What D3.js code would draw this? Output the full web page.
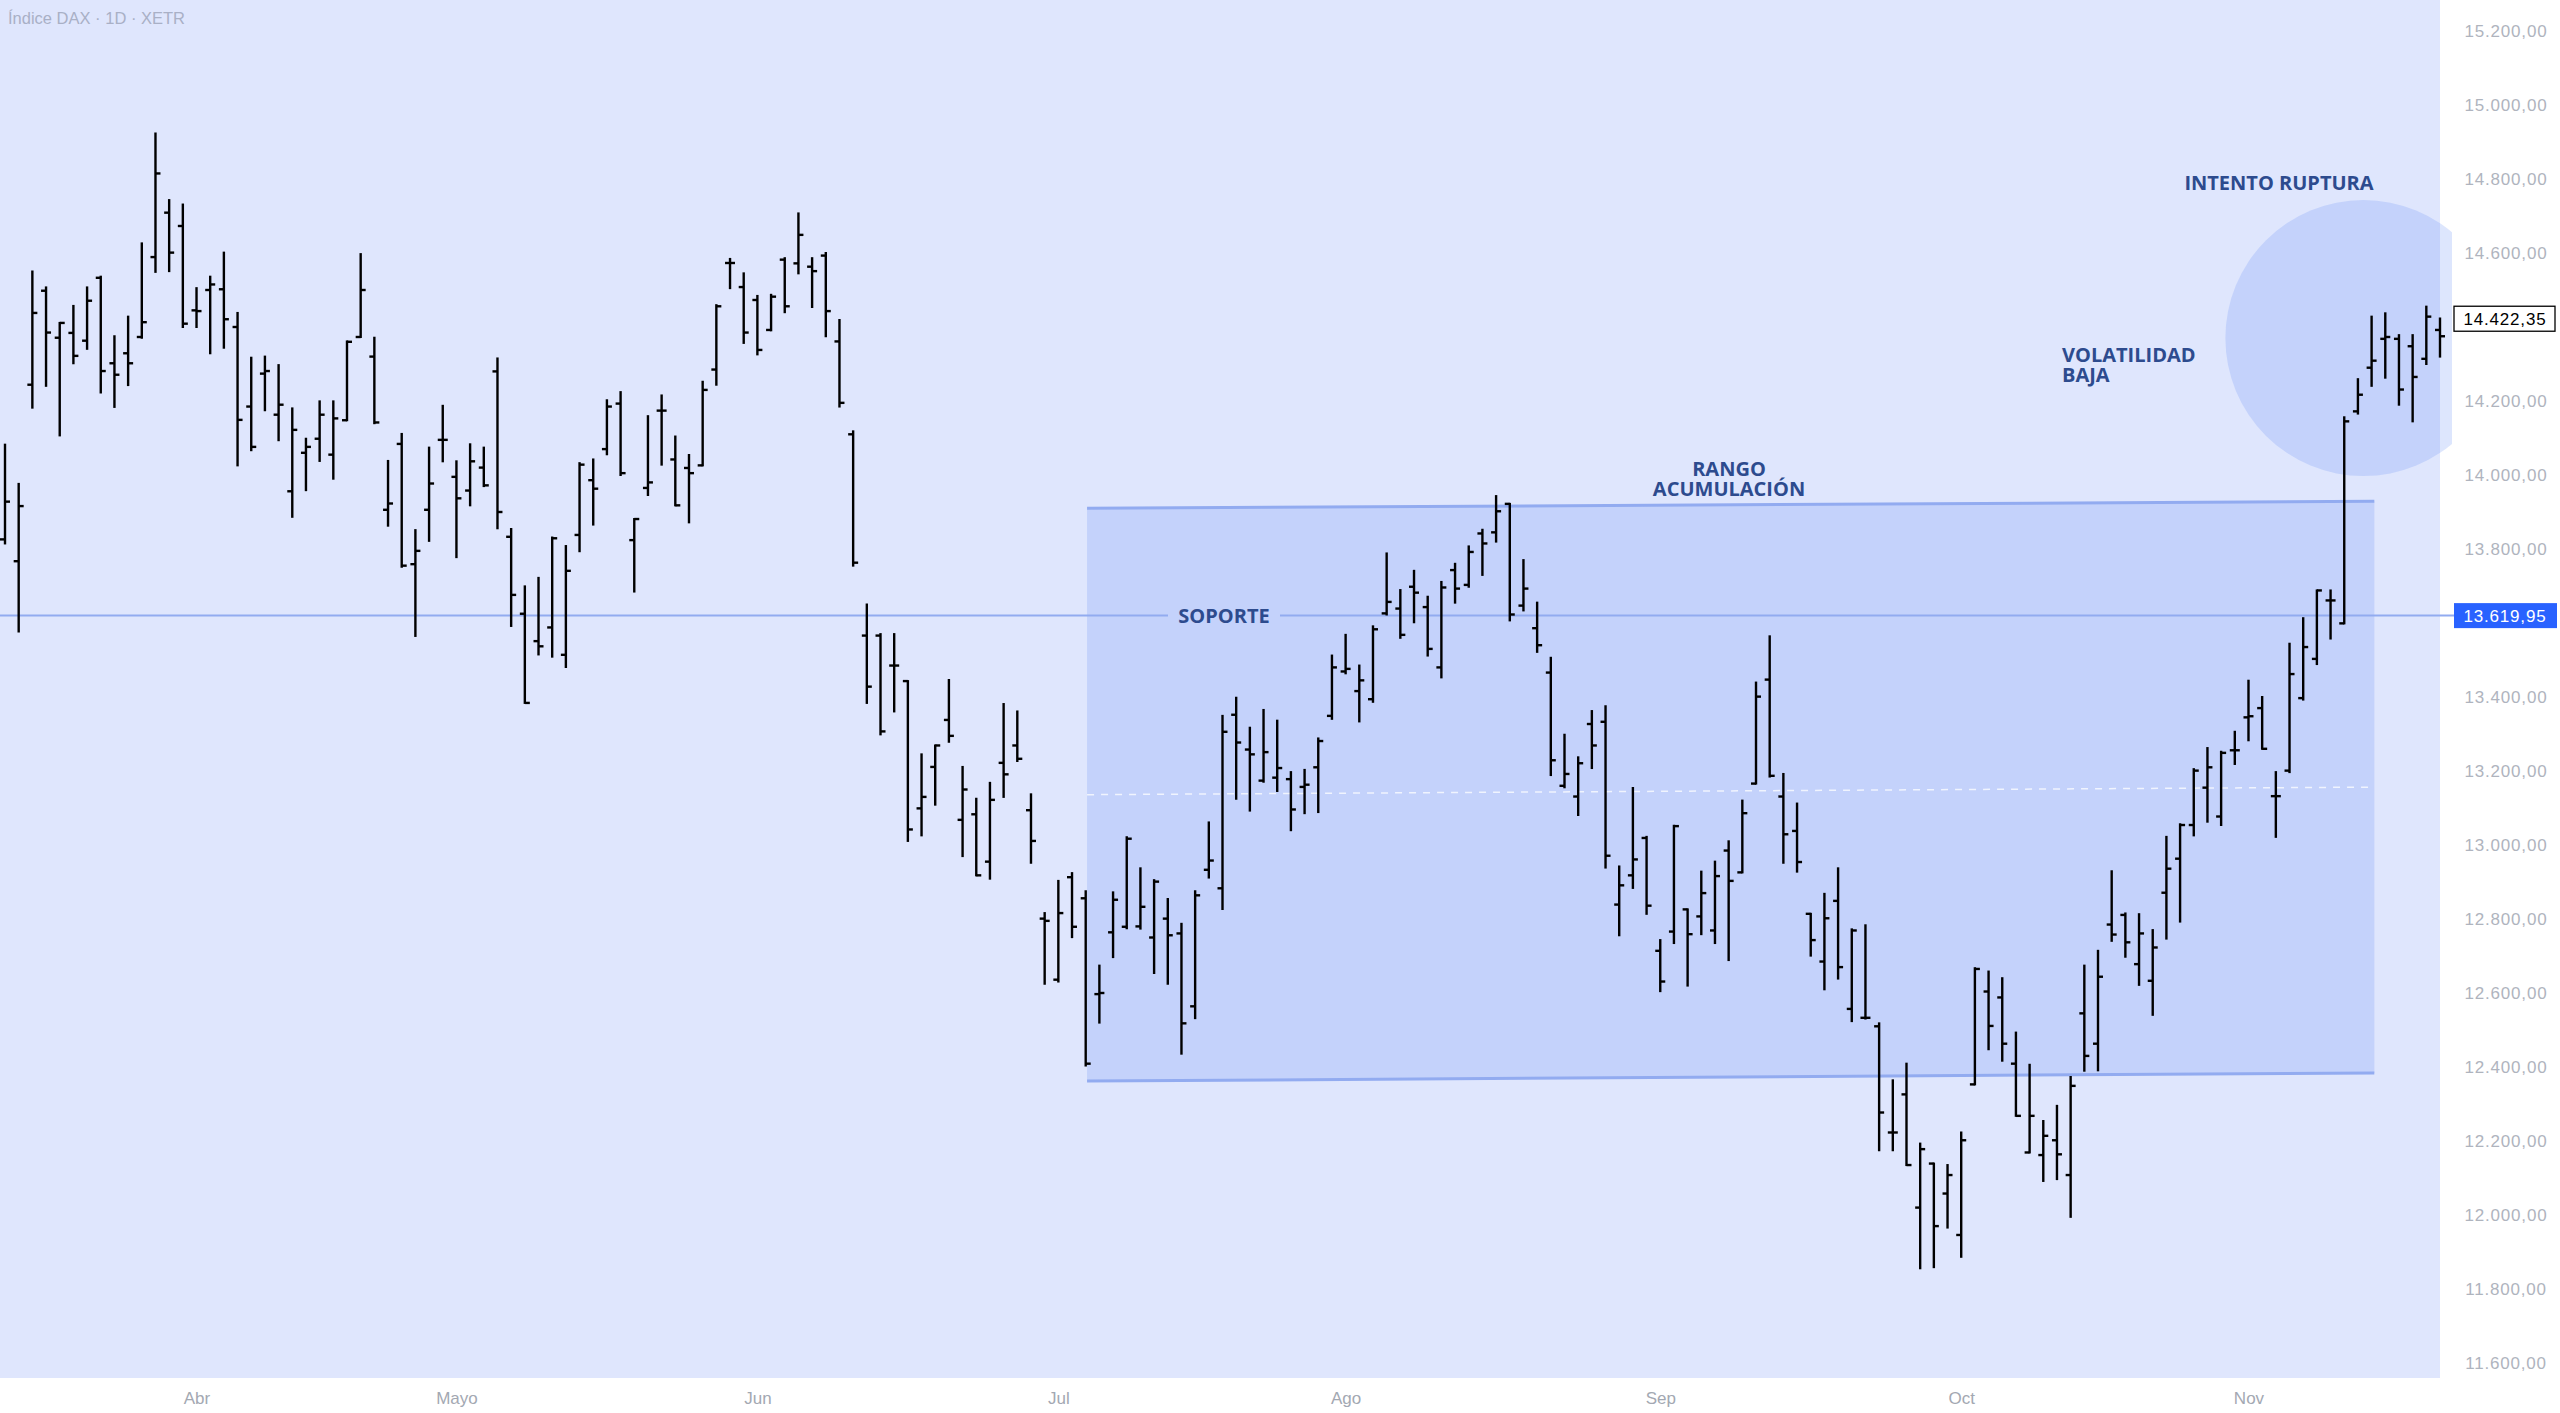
<!DOCTYPE html>
<html>
<head>
<meta charset="utf-8">
<script src="https://cdn.jsdelivr.net/npm/d3@7"></script>
<style>
  html, body { margin: 0; padding: 0; background: #ffffff; }
  svg { display: block; }
</style>
</head>
<body>
<svg id="chart" width="2560" height="1413"></svg>
<script>
// ---------- DATA ----------
const title = "Índice DAX · 1D · XETR";

const opens = [
13826,13767,14244,14498,14371,14384,14363,14533,14302,14329,14373,14589,14709,14673,14445,14500,14502,14400,14185,14274,
14163,13956,14060,14098,14055,14148,14373,14320,13906,14084,13759,13906,14095,13995,13958,14020,14280,13833,13625,13551,
13588,13514,13838,13986,14070,14193,13824,13965,14174,14042,14019,14026,14285,14573,14508,14473,14392,14582,14572,14563,
14593,14361,14110,13566,13566,13485,13443,13099,13211,13338,13068,13083,12955,13222,13269,13094,12801,12636,12913,12856,
12597,12764,12779,12780,12750,12801,12761,12564,12933,12883,13352,13258,13174,13182,13178,13157,13210,13349,13469,13416,
13394,13626,13639,13698,13643,13480,13743,13703,13842,13845,13922,13647,13586,13466,13160,13131,13327,13333,12839,12918,
13019,12714,12766,12826,12807,12769,12985,12926,13166,13447,13131,13038,12814,12685,12849,12557,12533,12510,12223,12326,
12020,12139,12058,11946,12353,12604,12588,12409,12169,12162,12202,12108,12545,12463,12785,12811,12678,12633,12871,12963,
13054,13155,13077,13256,13345,13370,13132,13201,13397,13503,13661,13599,14172,14290,14368,14368,14348,14314,14392];

const highs = [
14082,13976,14550,14507,14411,14457,14507,14536,14375,14428,14626,14923,14743,14731,14505,14536,14601,14438,14317,14320,
14297,14180,14098,14199,14199,14361,14597,14371,14038,14111,13851,14074,14187,14037,14083,14074,14315,13854,13699,13722,
13831,13808,14032,14042,14202,14224,13881,14159,14215,14104,14054,14252,14459,14584,14545,14484,14487,14586,14707,14586,
14600,14419,14118,13650,13570,13570,13443,13245,13269,13446,13211,13125,13168,13381,13361,13137,12816,12903,12924,12875,
12674,12872,13021,12937,12905,12854,12787,12875,13061,13349,13398,13317,13365,13336,13197,13203,13288,13512,13568,13485,
13591,13788,13689,13741,13671,13711,13760,13807,13852,13943,13922,13770,13655,13506,13298,13237,13362,13375,12942,13154,
13022,12743,13052,12826,12928,12955,13010,13120,13439,13564,13192,13112,12814,12868,12937,12772,12783,12518,12364,12409,
12193,12139,12135,12223,12667,12658,12640,12493,12406,12254,12295,12373,12674,12714,12929,12815,12813,12770,13022,13056,
13205,13262,13252,13306,13444,13400,13197,13544,13613,13688,13688,14156,14259,14428,14437,14378,14378,14455,14423];

const lows = [
13815,13577,14182,14241,14107,14302,14341,14223,14184,14243,14371,14549,14551,14400,14400,14329,14344,14026,14067,14175,
14094,13887,13959,14038,13990,14148,14373,14140,13863,13752,13565,13822,14037,13778,13918,13970,13856,13592,13384,13515,
13509,13481,13794,13866,14056,14000,13685,13946,14028,13918,13872,14026,14244,14505,14357,14326,14391,14440,14545,14454,
14375,14185,13755,13384,13299,13361,13011,13026,13109,13279,12970,12918,12909,13130,13227,12952,12625,12631,12751,12404,
12520,12697,12775,12774,12654,12625,12436,12532,12912,12827,13125,13093,13171,13146,13040,13086,13089,13341,13464,13334,
13387,13623,13560,13602,13512,13453,13655,13698,13730,13820,13607,13634,13522,13189,13156,13081,13208,12939,12756,12884,
12814,12605,12735,12620,12759,12735,12689,12926,13166,13185,12952,12928,12701,12610,12639,12524,12531,12175,12175,12135,
11856,11859,11966,11887,12353,12448,12417,12268,12169,12092,12097,11995,12390,12391,12741,12698,12622,12541,12747,12793,
13026,13063,13054,13219,13283,13260,13022,13197,13393,13489,13558,13599,14166,14241,14263,14190,14145,14300,14320];

const closes = [
13928,13916,14438,14385,14411,14322,14471,14281,14271,14302,14413,14815,14601,14409,14443,14515,14421,14149,14076,14281,
14190,14122,14076,14163,14153,14360,14500,14142,13923,13755,13795,13977,14095,13937,14037,13972,13900,13676,13384,13537,
13829,13741,14028,13963,14185,14005,13881,13980,14174,13918,14005,14230,14456,14573,14385,14338,14482,14456,14649,14551,
14443,14195,13763,13428,13307,13485,13042,13130,13269,13295,13150,12918,13122,13191,13233,13011,12795,12816,12779,12409,
12600,12852,13017,12833,12901,12756,12518,12864,12958,13306,13277,13245,13251,13208,13096,13163,13281,13480,13476,13445,
13583,13657,13568,13682,13530,13696,13693,13792,13815,13902,13623,13693,13540,13229,13192,13221,13269,12971,12891,12961,
12836,12631,13051,12759,12870,12916,12903,13086,13401,13187,13029,12954,12743,12802,12670,12769,12533,12277,12223,12135,
12178,11970,12108,12202,12665,12511,12463,12268,12268,12214,12164,12349,12430,12644,12758,12737,12761,12723,12936,13054,
13201,13210,13249,13256,13348,13260,13132,13462,13535,13688,13661,14145,14217,14309,14373,14231,14265,14428,14375];

// month labels and the bar index of the first session of each month
const monthLabels = ["Abr", "Mayo", "Jun", "Jul", "Ago", "Sep", "Oct", "Nov"];
const monthBarIndex = [14, 33, 55, 77, 98, 121, 143, 164];

// price axis ticks shown (14.400 and 13.600 are hidden behind the price labels in the reference)
const priceTicks = [11600,11800,12000,12200,12400,12600,12800,13000,13200,13400,13800,14000,14200,14600,14800,15000,15200];
const lastPrice = 14422.35;
const supportPrice = 13619.95;

// annotations (in data units: bar index, price)
const rangeStartIdx = 79.1, rangeEndIdx = 173.2;
const rangeTop = [13910, 13929];     // at start, at end
const rangeBottom = [12362, 12384];  // at start, at end
const circleCenter = { idx: 172.4, price: 14370 };
const annotations = {
  soporte: "SOPORTE",
  rango: ["RANGO", "ACUMULACIÓN"],
  volatilidad: ["VOLATILIDAD", "BAJA"],
  ruptura: "INTENTO RUPTURA"
};

// ---------- LAYOUT ----------
const W = 2560, H = 1413;
const plotRight = 2440, plotBottom = 1378;

const svg = d3.select("#chart");

const x = d3.scaleLinear().domain([0, closes.length - 1]).range([5, 2440]);
const y = d3.scaleLinear().domain([11600, 15200]).range([1363, 31]);

const esLocale = d3.formatLocale({ decimal: ",", thousands: ".", grouping: [3], currency: ["", " €"] });
const fmt = esLocale.format(",.2f");

const textFont = "'Open Sans', 'Noto Sans', sans-serif";
const axisFont = "'Liberation Sans', Arial, sans-serif";
const annColor = "#2d4b8e";

// backgrounds
svg.append("rect").attr("x", 0).attr("y", 0).attr("width", W).attr("height", H).attr("fill", "#ffffff");
svg.append("rect").attr("x", 0).attr("y", 0).attr("width", plotRight).attr("height", plotBottom).attr("fill", "#dfe6fd");

// clip for drawings (slightly beyond plot right, as in reference)
svg.append("defs").append("clipPath").attr("id", "drawClip")
  .append("rect").attr("x", 0).attr("y", 0).attr("width", 2452).attr("height", plotBottom);

const draw = svg.append("g").attr("clip-path", "url(#drawClip)");

// circle "INTENTO RUPTURA"
draw.append("circle")
  .attr("cx", x(circleCenter.idx)).attr("cy", y(circleCenter.price)).attr("r", 138)
  .attr("fill", "rgba(100,140,245,0.22)");

// accumulation range channel
const rx0 = x(rangeStartIdx), rx1 = x(rangeEndIdx);
draw.append("path")
  .attr("d", `M${rx0},${y(rangeTop[0])} L${rx1},${y(rangeTop[1])} L${rx1},${y(rangeBottom[1])} L${rx0},${y(rangeBottom[0])} Z`)
  .attr("fill", "rgba(100,140,245,0.22)");
draw.append("line")
  .attr("x1", rx0).attr("y1", (y(rangeTop[0]) + y(rangeBottom[0])) / 2)
  .attr("x2", rx1).attr("y2", (y(rangeTop[1]) + y(rangeBottom[1])) / 2)
  .attr("stroke", "rgba(255,255,255,0.75)").attr("stroke-width", 1.5).attr("stroke-dasharray", "7,7");
[rangeTop, rangeBottom].forEach(r => {
  draw.append("line")
    .attr("x1", rx0).attr("y1", y(r[0])).attr("x2", rx1).attr("y2", y(r[1]))
    .attr("stroke", "#92abf0").attr("stroke-width", 3);
});

// support line with gap for label
const sy = y(supportPrice);
const soporteX = 1224;
svg.append("line").attr("x1", 0).attr("x2", soporteX - 56).attr("y1", sy).attr("y2", sy)
  .attr("stroke", "#92abf0").attr("stroke-width", 2);
svg.append("line").attr("x1", soporteX + 56).attr("x2", 2454).attr("y1", sy).attr("y2", sy)
  .attr("stroke", "#92abf0").attr("stroke-width", 2);
svg.append("text").attr("x", soporteX).attr("y", sy).attr("dy", "0.36em")
  .attr("text-anchor", "middle").attr("font-family", textFont).attr("font-weight", 700)
  .attr("font-size", 20).attr("fill", annColor).text(annotations.soporte);

// OHLC bars
const bars = svg.append("g").attr("stroke", "#000").attr("stroke-width", 2.4);
const idx = d3.range(closes.length);
bars.selectAll("line.hl").data(idx).join("line").attr("class", "hl")
  .attr("x1", i => x(i)).attr("x2", i => x(i))
  .attr("y1", i => y(highs[i]) - 1).attr("y2", i => y(lows[i]) + 1);
bars.selectAll("line.o").data(idx).join("line").attr("class", "o")
  .attr("x1", i => x(i) - 5).attr("x2", i => x(i))
  .attr("y1", i => y(opens[i])).attr("y2", i => y(opens[i]));
bars.selectAll("line.c").data(idx).join("line").attr("class", "c")
  .attr("x1", i => x(i)).attr("x2", i => x(i) + 5)
  .attr("y1", i => y(closes[i])).attr("y2", i => y(closes[i]));

// annotation texts
function multiLine(lines, xPos, yFirst, anchor, gap) {
  const t = svg.append("text").attr("font-family", textFont).attr("font-weight", 700)
    .attr("font-size", 20).attr("fill", annColor).attr("text-anchor", anchor);
  lines.forEach((l, k) => {
    t.append("tspan").attr("x", xPos).attr("y", yFirst + k * gap).attr("dy", "0.36em").text(l);
  });
}
multiLine(annotations.rango, 1729, 469, "middle", 19.5);
multiLine(annotations.volatilidad, 2062, 355, "start", 19.5);
multiLine([annotations.ruptura], 2279, 183, "middle", 19.5);

// title
svg.append("text").attr("x", 8).attr("y", 24).attr("font-family", axisFont)
  .attr("font-size", 16.5).attr("fill", "#a9b0c6").text(title);

// price axis (right)
const axisG = svg.append("g").attr("transform", `translate(${plotRight},0)`);
const yAxis = d3.axisRight(y).tickValues(priceTicks).tickFormat(fmt).tickSize(0).tickPadding(0);
axisG.call(yAxis);
axisG.select(".domain").remove();
axisG.selectAll(".tick text")
  .attr("x", 66).attr("text-anchor", "middle")
  .attr("font-family", axisFont).attr("font-size", 17).attr("letter-spacing", 0.8)
  .attr("fill", "#afb4be");

// last price label
const ly = y(lastPrice);
svg.append("rect").attr("x", 2454).attr("y", ly - 12.5).attr("width", 101).attr("height", 25)
  .attr("fill", "#ffffff").attr("stroke", "#000").attr("stroke-width", 1.3);
svg.append("text").attr("x", 2505).attr("y", ly).attr("dy", "0.36em").attr("text-anchor", "middle")
  .attr("font-family", axisFont).attr("font-size", 17).attr("letter-spacing", 0.8)
  .attr("fill", "#000").text(fmt(lastPrice));

// support price label
svg.append("rect").attr("x", 2454).attr("y", sy - 12.5).attr("width", 103).attr("height", 25)
  .attr("fill", "#2962ff");
svg.append("text").attr("x", 2505).attr("y", sy).attr("dy", "0.36em").attr("text-anchor", "middle")
  .attr("font-family", axisFont).attr("font-size", 17).attr("letter-spacing", 0.8)
  .attr("fill", "#ffffff").text(fmt(supportPrice));

// time axis (bottom)
const xAxisG = svg.append("g").attr("transform", `translate(0,${plotBottom})`);
const xAxis = d3.axisBottom(x).tickValues(monthBarIndex)
  .tickFormat((d, k) => monthLabels[k]).tickSize(0).tickPadding(0);
xAxisG.call(xAxis);
xAxisG.select(".domain").remove();
xAxisG.selectAll(".tick text")
  .attr("y", 20).attr("dy", "0.36em")
  .attr("font-family", axisFont).attr("font-size", 17)
  .attr("fill", "#a3a8b2");
</script>
</body>
</html>
